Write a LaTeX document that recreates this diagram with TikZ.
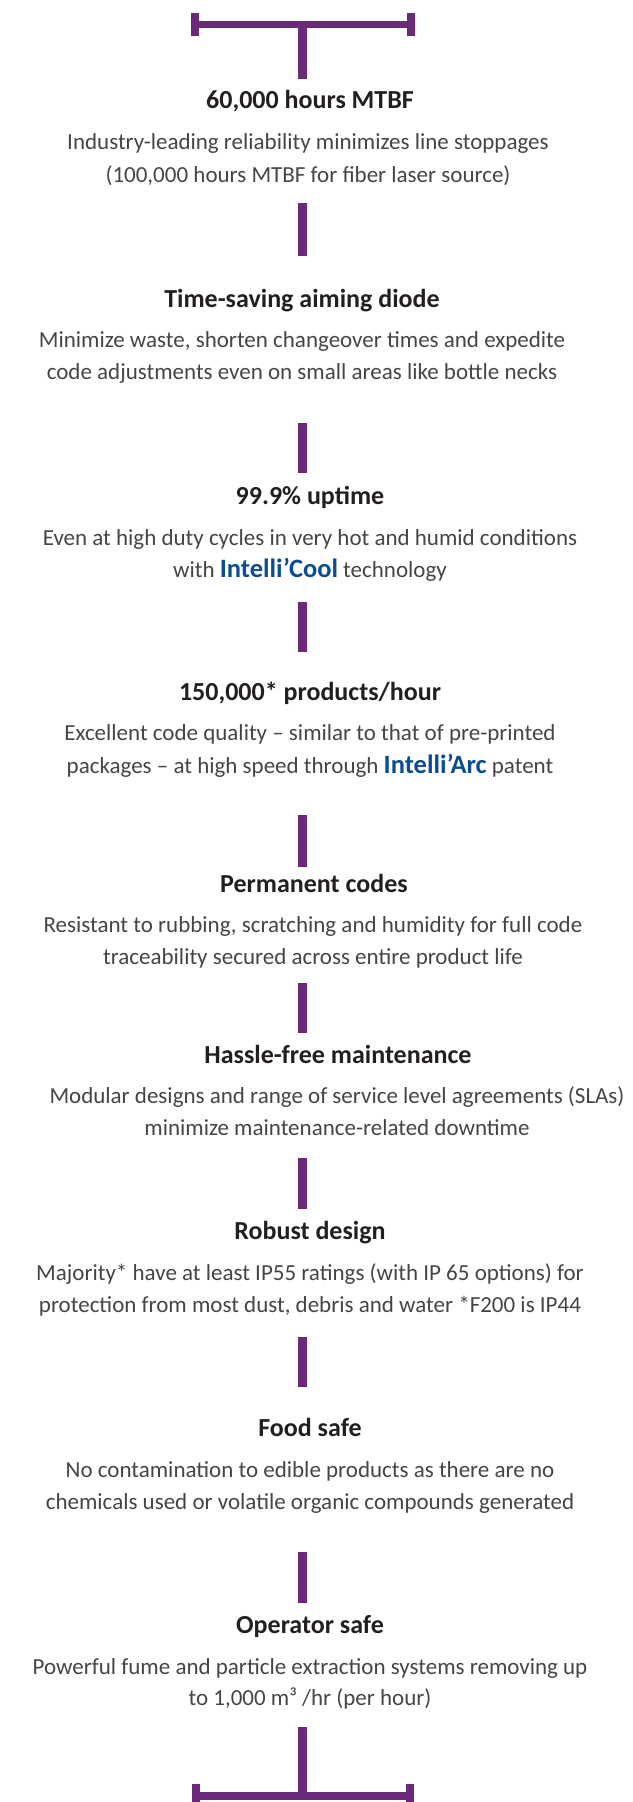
\documentclass[tikz,border=0pt]{standalone}
\usepackage{fontspec}
\setmainfont{Carlito}
\definecolor{barpurple}{HTML}{6A2A79}
\definecolor{headink}{HTML}{231F20}
\definecolor{bodyink}{HTML}{454545}
\definecolor{brandblue}{HTML}{0B4C97}
\newcommand{\brand}[1]{{\fontsize{26.5}{32}\selectfont\bfseries\color{brandblue}#1}}
\tikzset{
  stem/.style={draw=barpurple, line width=9pt},
  capbar/.style={draw=barpurple, line width=8pt},
  head/.style={anchor=mid, inner sep=0pt, text=headink, font=\fontsize{26}{30}\selectfont\bfseries},
  body/.style={anchor=mid, inner sep=0pt, text=bodyink, font=\fontsize{23}{32}\selectfont}
}
\begin{document}
\begin{tikzpicture}[x=1pt,y=-1pt]
  \useasboundingbox (0,0) rectangle (632,1802);
  % top bracket
  \coordinate (tl) at (195,24.5);
  \coordinate (tr) at (410.5,24.5);
  \coordinate (tm) at (302.5,24.5);
  \draw [capbar, line width=7.5pt] (tl) -- (tr);
  \draw [capbar] (195,13) -- (195,36);
  \draw [capbar] (410.5,13) -- (410.5,36);
  \coordinate (s0) at (302.5,79);
  \draw [stem] (tm) -- (s0);
  % items
  \node [head] (t1) at (310,106) {60,000 hours MTBF};
  \node [body] (d1a) at (308,147) {Industry-leading reliability minimizes line stoppages};
  \node [body] (d1b) at (308,180) {(100,000 hours MTBF for fiber laser source)};
  \coordinate (s1a) at (302.5,203);
  \coordinate (s1b) at (302.5,256);
  \draw [stem] (s1a) -- (s1b);
  \node [head] (t2) at (302,305) {Time-saving aiming diode};
  \node [body] (d2a) at (302,345) {Minimize waste, shorten changeover times and expedite};
  \node [body] (d2b) at (302,377) {code adjustments even on small areas like bottle necks};
  \coordinate (s2a) at (302.5,423);
  \coordinate (s2b) at (302.5,473);
  \draw [stem] (s2a) -- (s2b);
  \node [head] (t3) at (310,502) {99.9\% uptime};
  \node [body] (d3a) at (310,543) {Even at high duty cycles in very hot and humid conditions};
  \node [body] (d3b) at (310,575) {with \brand{Intelli’Cool} technology};
  \coordinate (s3a) at (302.5,602);
  \coordinate (s3b) at (302.5,652);
  \draw [stem] (s3a) -- (s3b);
  \node [head] (t4) at (310,698) {150,000* products/hour};
  \node [body] (d4a) at (310,738) {Excellent code quality – similar to that of pre-printed};
  \node [body] (d4b) at (310,771) {packages – at high speed through \brand{Intelli’Arc} patent};
  \coordinate (s4a) at (302.5,815);
  \coordinate (s4b) at (302.5,867);
  \draw [stem] (s4a) -- (s4b);
  \node [head] (t5) at (314,890) {Permanent codes};
  \node [body] (d5a) at (313,930) {Resistant to rubbing, scratching and humidity for full code};
  \node [body] (d5b) at (313,962) {traceability secured across entire product life};
  \coordinate (s5a) at (302.5,983);
  \coordinate (s5b) at (302.5,1033);
  \draw [stem] (s5a) -- (s5b);
  \node [head] (t6) at (338,1061) {Hassle-free maintenance};
  \node [body] (d6a) at (337,1101) {Modular designs and range of service level agreements (SLAs)};
  \node [body] (d6b) at (337,1133) {minimize maintenance-related downtime};
  \coordinate (s6a) at (302.5,1158);
  \coordinate (s6b) at (302.5,1209);
  \draw [stem] (s6a) -- (s6b);
  \node [head] (t7) at (310,1237) {Robust design};
  \node [body] (d7a) at (310,1278) {Majority* have at least IP55 ratings (with IP 65 options) for};
  \node [body] (d7b) at (310,1310) {protection from most dust, debris and water *F200 is IP44};
  \coordinate (s7a) at (302.5,1337);
  \coordinate (s7b) at (302.5,1387);
  \draw [stem] (s7a) -- (s7b);
  \node [head] (t8) at (310,1434) {Food safe};
  \node [body] (d8a) at (310,1475) {No contamination to edible products as there are no};
  \node [body] (d8b) at (310,1507) {chemicals used or volatile organic compounds generated};
  \coordinate (s8a) at (302.5,1552);
  \coordinate (s8b) at (302.5,1603);
  \draw [stem] (s8a) -- (s8b);
  \node [head] (t9) at (310,1631) {Operator safe};
  \node [body] (d9a) at (310,1672) {Powerful fume and particle extraction systems removing up};
  \node [body] (d9b) at (310,1703) {to 1,000 m³ /hr (per hour)};
  % bottom bracket
  \coordinate (s9) at (302.5,1727);
  \coordinate (bl) at (195.5,1796);
  \coordinate (br) at (410,1796);
  \coordinate (bm) at (302.5,1796);
  \draw [stem] (s9) -- (bm);
  \draw [capbar, line width=8pt] (bl) -- (br);
  \draw [capbar] (195.5,1784) -- (195.5,1802);
  \draw [capbar] (410,1784) -- (410,1802);
\end{tikzpicture}
\end{document}
